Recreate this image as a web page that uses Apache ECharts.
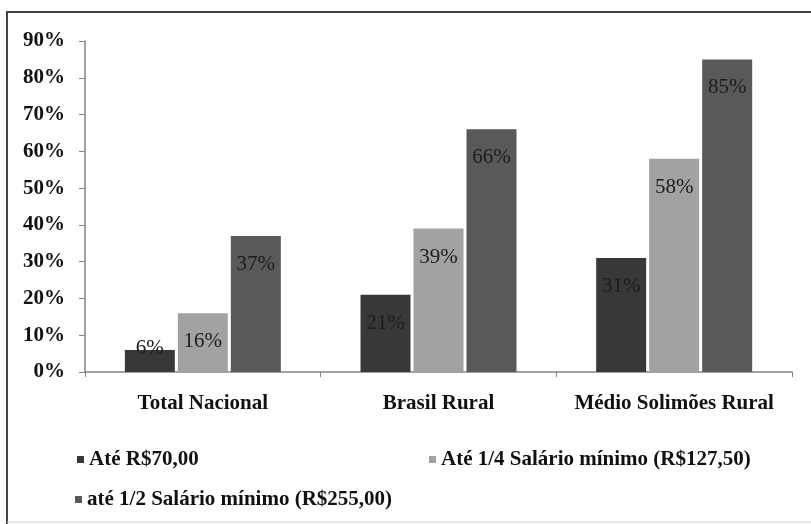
<!DOCTYPE html>
<html lang="pt">

<head>
    <meta charset="UTF-8">
    <title>Renda per capita</title>
    <script src="https://cdn.jsdelivr.net/npm/echarts@6/dist/echarts.min.js"></script>
    <style>
        * {
            padding: 0;
            margin: 0;
        }

        #chart {
            width: 811px;
            height: 524px;
            background: #fff;
        }
    </style>
</head>

<body>
    <div id="chart"></div>
    <script type="text/javascript">
        // dados
        var categorias = ['Total Nacional', 'Brasil Rural', 'Médio Solimões Rural'];
        var serieNomes = ['Até R$70,00', 'Até 1/4 Salário mínimo (R$127,50)', 'até 1/2 Salário mínimo (R$255,00)'];
        var ate70 = [6, 21, 31];
        var ateQuarto = [16, 39, 58];
        var ateMeio = [37, 66, 85];
        var yTicks = [0, 10, 20, 30, 40, 50, 60, 70, 80, 90];

        var cores = ['#383838', '#a2a2a2', '#595959'];
        var fonte = '"Liberation Serif", "Times New Roman", serif';

        var myChart = echarts.init(document.getElementById('chart'));

        function montaSerie(nome, valores, cor) {
            return {
                name: nome,
                type: 'bar',
                barWidth: 50,
                barGap: '6%',
                itemStyle: { color: cor },
                label: {
                    show: true,
                    position: 'insideTop',
                    distance: 18,
                    formatter: '{c}%',
                    fontFamily: fonte,
                    fontSize: 21,
                    color: '#1c1c1c'
                },
                data: valores.map(function (v) {
                    // barra muito baixa: rótulo fica sobre a borda superior
                    if (v < 10) {
                        return { value: v, label: { position: 'top', distance: -9 } };
                    }
                    return v;
                })
            };
        }

        function legenda(i, left, top) {
            return {
                data: [serieNomes[i]],
                left: left,
                top: top,
                icon: 'rect',
                itemWidth: 7,
                itemHeight: 7,
                itemGap: 6,
                textStyle: {
                    fontFamily: fonte,
                    fontSize: 21,
                    fontWeight: 'bold',
                    color: '#111'
                }
            };
        }

        var option = {
            animation: false,
            grid: {
                left: 85,
                right: 19,
                top: 41,
                bottom: 152
            },
            legend: [
                legenda(0, 72, 444),
                legenda(1, 424, 444),
                legenda(2, 70, 484)
            ],
            xAxis: {
                type: 'category',
                data: categorias,
                axisLine: { lineStyle: { color: '#858585', width: 1.5 } },
                axisTick: { show: true, length: 5, lineStyle: { color: '#858585' } },
                axisLabel: {
                    interval: 0,
                    margin: 21,
                    fontFamily: fonte,
                    fontSize: 21,
                    fontWeight: 'bold',
                    color: '#111'
                }
            },
            yAxis: {
                type: 'value',
                min: yTicks[0],
                max: yTicks[yTicks.length - 1],
                interval: 10,
                splitLine: { show: false },
                axisLine: { show: true, lineStyle: { color: '#858585', width: 1.5 } },
                axisTick: { show: true, length: 6, lineStyle: { color: '#858585' } },
                axisLabel: {
                    margin: 20,
                    formatter: '{value}%',
                    fontFamily: fonte,
                    fontSize: 21,
                    fontWeight: 'bold',
                    color: '#111'
                }
            },
            graphic: [
                { type: 'line', shape: { x1: 6, y1: 12, x2: 811, y2: 12 }, style: { stroke: '#444', lineWidth: 2 } },
                { type: 'line', shape: { x1: 7, y1: 12, x2: 7, y2: 524 }, style: { stroke: '#444', lineWidth: 2 } },
                { type: 'line', shape: { x1: 7, y1: 522, x2: 811, y2: 522 }, style: { stroke: '#d0d0d0', lineWidth: 1 } }
            ],
            series: [
                montaSerie(serieNomes[0], ate70, cores[0]),
                montaSerie(serieNomes[1], ateQuarto, cores[1]),
                montaSerie(serieNomes[2], ateMeio, cores[2])
            ]
        };

        myChart.setOption(option);
    </script>
</body>

</html>
